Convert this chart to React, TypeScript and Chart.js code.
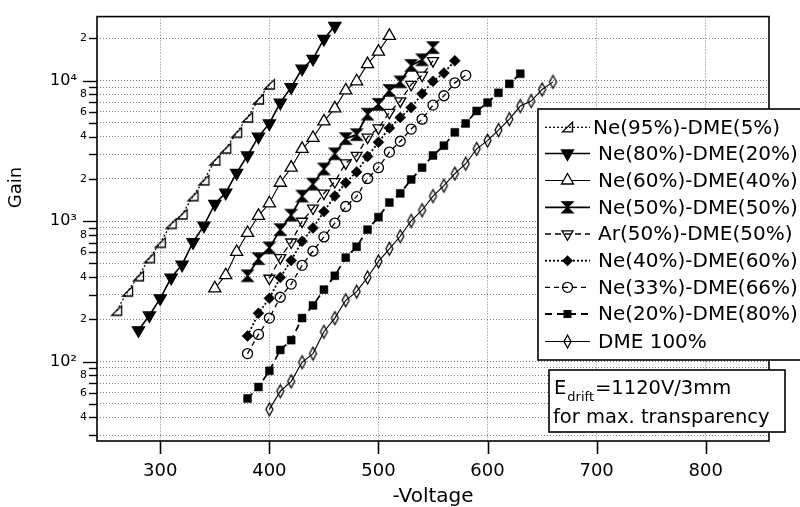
import React, { useEffect, useRef } from 'react';
import { Chart, registerables } from 'chart.js';

Chart.register(...registerables);

const FONT = '"DejaVu Sans", "Liberation Sans", sans-serif';

const seriesNames = [
  'Ne(95%)-DME(5%)',
  'Ne(80%)-DME(20%)',
  'Ne(60%)-DME(40%)',
  'Ne(50%)-DME(50%)',
  'Ar(50%)-DME(50%)',
  'Ne(40%)-DME(60%)',
  'Ne(33%)-DME(66%)',
  'Ne(20%)-DME(80%)',
  'DME 100%',
];

const voltNe95 = [260, 270, 280, 290, 300, 310, 320, 330, 340, 350, 360, 370, 380, 390, 400];
const gainNe95 = [230, 315, 405, 545, 700, 955, 1115, 1505, 1950, 2700, 3280, 4250, 5460, 7340, 9380];

const voltNe80 = [280, 290, 300, 310, 320, 330, 340, 350, 360, 370, 380, 390, 400, 410, 420, 430, 440, 450, 460];
const gainNe80 = [167, 213, 282, 395, 490, 708, 927, 1324, 1593, 2203, 2931, 3990, 4955, 6965, 8975, 12150, 14300, 19770, 24500];

const voltNe60 = [350, 360, 370, 380, 390, 400, 410, 420, 430, 440, 450, 460, 470, 480, 490, 500, 510];
const gainNe60 = [332, 412, 603, 823, 1090, 1339, 1874, 2400, 3266, 3906, 5120, 6350, 8510, 9890, 13100, 16080, 20840];

const voltNe50 = [380, 390, 400, 410, 420, 430, 440, 450, 460, 470, 480, 490, 500, 510, 520, 530, 540, 550];
const gainNe50 = [408, 540, 645, 869, 1102, 1507, 1832, 2350, 3013, 3866, 4122, 5768, 6780, 8510, 9800, 12830, 14070, 17180];

const voltAr50 = [400, 410, 420, 430, 440, 450, 460, 470, 480, 490, 500, 510, 520, 530, 540, 550];
const gainAr50 = [391, 548, 708, 995, 1235, 1575, 1905, 2588, 2931, 3944, 4592, 5929, 7150, 9370, 10900, 13830];

const voltNe40 = [380, 390, 400, 410, 420, 430, 440, 450, 460, 470, 480, 490, 500, 510, 520, 530, 540, 550, 560, 570];
const gainNe40 = [152, 221, 282, 397, 525, 719, 893, 1170, 1507, 1874, 2240, 2885, 3641, 4592, 5460, 6424, 8060, 9880, 11330, 13830];

const voltNe33 = [380, 390, 400, 410, 420, 430, 440, 450, 460, 470, 480, 490, 500, 510, 520, 530, 540, 550, 560, 570, 580];
const gainNe33 = [114, 156, 204, 287, 356, 484, 612, 771, 968, 1270, 1493, 2010, 2400, 3097, 3700, 4520, 5310, 6690, 7800, 9640, 10900];

const voltNe20 = [380, 390, 400, 410, 420, 430, 440, 450, 460, 470, 480, 490, 500, 510, 520, 530, 540, 550, 560, 570, 580, 590, 600, 610, 620, 630];
const gainNe20 = [54.6, 65.9, 85.9, 121, 142, 204, 251, 325, 408, 549, 656, 869, 1067, 1355, 1575, 1977, 2400, 2931, 3444, 4284, 4955, 6080, 6965, 8182, 9480, 11190];

const voltDME = [400, 410, 420, 430, 440, 450, 460, 470, 480, 490, 500, 510, 520, 530, 540, 550, 560, 570, 580, 590, 600, 610, 620, 630, 640, 650, 660];
const gainDME = [45.7, 61.5, 72.3, 98.9, 114, 163, 204, 273, 315, 397, 517, 635, 780, 1003, 1195, 1507, 1787, 2178, 2560, 3266, 3740, 4446, 5310, 6590, 7150, 8650, 9790];

const xTickValues = [300, 400, 500, 600, 700, 800];
const xTickLabels = ['300', '400', '500', '600', '700', '800'];

const yTickValues = [
  30, 40, 50, 60, 70, 80, 90,
  100, 200, 300, 400, 500, 600, 700, 800, 900,
  1000, 2000, 3000, 4000, 5000, 6000, 7000, 8000, 9000,
  10000, 20000,
];
const yTickLabels = [
  '', '4', '', '6', '', '8', '',
  '10\u00B2  ', '2', '', '4', '', '6', '', '8', '',
  '10\u00B3  ', '2', '', '4', '', '6', '', '8', '',
  '10\u2074  ', '2',
];
const yMajorValues = [100, 1000, 10000];

const X_MIN = 242;
const X_MAX = 858;
const Y_MIN = 27.2;
const Y_MAX = 28550;

type Style = { marker: string; width: number; dash: number[] };
const seriesStyles: Style[] = [
  { marker: 'rtri', width: 1.2, dash: [2, 2] },
  { marker: 'tridown', width: 1.6, dash: [] },
  { marker: 'triup', width: 1.1, dash: [] },
  { marker: 'hourglass', width: 1.8, dash: [] },
  { marker: 'tridownOpen', width: 1.3, dash: [6, 4] },
  { marker: 'diamond', width: 1.8, dash: [2, 2] },
  { marker: 'circle', width: 1.3, dash: [5, 4] },
  { marker: 'square', width: 1.8, dash: [7, 5] },
  { marker: 'thinDiamond', width: 1.1, dash: [] },
];

// vector marker path (used for the legend and for the custom point images)
function markerPath(g: CanvasRenderingContext2D, kind: string, x: number, y: number) {
  g.save();
  g.setLineDash([]);
  g.lineWidth = 1.3;
  g.strokeStyle = '#000';
  g.fillStyle = '#000';
  g.beginPath();
  switch (kind) {
    case 'rtri':
      g.moveTo(x - 5, y + 4.5); g.lineTo(x + 5, y + 4.5); g.lineTo(x + 5, y - 5); g.closePath();
      g.stroke();
      break;
    case 'tridown':
      g.moveTo(x - 6, y - 3.5); g.lineTo(x + 6, y - 3.5); g.lineTo(x, y + 7); g.closePath();
      g.fill(); g.stroke();
      break;
    case 'triup':
      g.moveTo(x - 6, y + 3.5); g.lineTo(x + 6, y + 3.5); g.lineTo(x, y - 7); g.closePath();
      g.fillStyle = '#fff'; g.fill(); g.stroke();
      break;
    case 'hourglass':
      g.moveTo(x - 5.5, y - 5.5); g.lineTo(x + 5.5, y - 5.5); g.lineTo(x - 5.5, y + 5.5); g.lineTo(x + 5.5, y + 5.5); g.closePath();
      g.fill(); g.stroke();
      break;
    case 'tridownOpen':
      g.moveTo(x - 5.5, y - 3.2); g.lineTo(x + 5.5, y - 3.2); g.lineTo(x, y + 6.3); g.closePath();
      g.stroke();
      break;
    case 'diamond':
      g.moveTo(x, y - 5.5); g.lineTo(x + 5.5, y); g.lineTo(x, y + 5.5); g.lineTo(x - 5.5, y); g.closePath();
      g.fill();
      break;
    case 'circle':
      g.arc(x, y, 5, 0, Math.PI * 2);
      g.stroke();
      break;
    case 'square':
      g.rect(x - 4, y - 4, 8, 8);
      g.fill();
      break;
    case 'thinDiamond':
      g.moveTo(x, y - 6.5); g.lineTo(x + 3.5, y); g.lineTo(x, y + 6.5); g.lineTo(x - 3.5, y); g.closePath();
      g.stroke();
      break;
  }
  g.restore();
}

function makeMarkerImage(kind: string): HTMLCanvasElement {
  const c = document.createElement('canvas');
  c.width = 17;
  c.height = 17;
  const g = c.getContext('2d') as CanvasRenderingContext2D;
  markerPath(g, kind, 8.5, 8.5);
  return c;
}

// Chart.js point options per marker kind
function pointOpts(kind: string): any {
  const base = { pointBorderColor: '#000', pointBorderWidth: 1.3 };
  switch (kind) {
    case 'tridown':
      return { ...base, pointStyle: 'triangle', pointRotation: 180, pointRadius: 7, pointBackgroundColor: '#000' };
    case 'triup':
      return { ...base, pointStyle: 'triangle', pointRotation: 0, pointRadius: 7, pointBackgroundColor: '#fff' };
    case 'tridownOpen':
      return { ...base, pointStyle: 'triangle', pointRotation: 180, pointRadius: 6.3, pointBackgroundColor: 'rgba(0,0,0,0)' };
    case 'diamond':
      return { ...base, pointStyle: 'rectRot', pointRadius: 5.5, pointBorderWidth: 0.5, pointBackgroundColor: '#000' };
    case 'circle':
      return { ...base, pointStyle: 'circle', pointRadius: 5, pointBackgroundColor: 'rgba(0,0,0,0)' };
    case 'square':
      return { ...base, pointStyle: 'rect', pointRadius: 5.6, pointBorderWidth: 0.5, pointBackgroundColor: '#000' };
    default:
      return { ...base, pointStyle: makeMarkerImage(kind), pointRadius: 6 };
  }
}

export default function App() {
  const ref = useRef<HTMLCanvasElement | null>(null);

  useEffect(() => {
    const canvas = ref.current;
    if (!canvas) return;

    const volts = [voltNe95, voltNe80, voltNe60, voltNe50, voltAr50, voltNe40, voltNe33, voltNe20, voltDME];
    const gains = [gainNe95, gainNe80, gainNe60, gainNe50, gainAr50, gainNe40, gainNe33, gainNe20, gainDME];

    const datasets = seriesNames.map((name, i) => {
      const p = pointOpts(seriesStyles[i].marker);
      return {
        label: name,
        data: volts[i].map((v, j) => ({ x: v, y: gains[i][j] })),
        borderColor: '#000',
        backgroundColor: '#000',
        borderWidth: seriesStyles[i].width,
        borderDash: seriesStyles[i].dash,
        ...p,
        pointHoverRadius: p.pointRadius,
        fill: false,
        tension: 0,
        clip: false as any,
      };
    });

    const decor = {
      id: 'decor',
      afterDraw(chart: any) {
        const { ctx, chartArea: a, scales } = chart;
        ctx.save();
        ctx.setLineDash([]);
        ctx.strokeStyle = '#000';
        ctx.fillStyle = '#000';

        // frame
        ctx.lineWidth = 1.6;
        ctx.strokeRect(a.left, a.top, a.right - a.left, a.bottom - a.top);

        // y tick marks
        ctx.lineWidth = 1.4;
        yTickValues.forEach((v) => {
          const py = Math.round(scales.y.getPixelForValue(v)) + 0.5;
          const len = yMajorValues.includes(v) ? 14 : 8;
          ctx.beginPath();
          ctx.moveTo(a.left - len, py);
          ctx.lineTo(a.left, py);
          ctx.stroke();
        });
        // x tick marks
        ctx.lineWidth = 1.6;
        xTickValues.forEach((v) => {
          const px = Math.round(scales.x.getPixelForValue(v)) + 0.5;
          ctx.beginPath();
          ctx.moveTo(px, a.bottom);
          ctx.lineTo(px, a.bottom + 13);
          ctx.stroke();
        });

        // y title
        ctx.save();
        ctx.translate(16, 187.5);
        ctx.rotate(-Math.PI / 2);
        ctx.font = `18px ${FONT}`;
        ctx.textAlign = 'center';
        ctx.textBaseline = 'middle';
        ctx.fillText('Gain', 0, 0);
        ctx.restore();

        // legend box
        const lx = 538, ly = 109, lb = 360;
        ctx.fillStyle = '#fff';
        ctx.fillRect(lx, ly, 300, lb - ly);
        ctx.lineWidth = 1.6;
        ctx.strokeStyle = '#000';
        ctx.strokeRect(lx, ly, 300, lb - ly);
        const rowY = [127.3, 153.5, 180.5, 207.3, 234, 260.7, 287.3, 314, 341.5];
        ctx.font = `20px ${FONT}`;
        ctx.textBaseline = 'middle';
        ctx.textAlign = 'left';
        seriesNames.forEach((name, i) => {
          const y = rowY[i];
          ctx.save();
          ctx.strokeStyle = '#000';
          ctx.lineWidth = seriesStyles[i].width;
          ctx.setLineDash(seriesStyles[i].dash);
          ctx.beginPath();
          ctx.moveTo(545, y);
          ctx.lineTo(590, y);
          ctx.stroke();
          ctx.restore();
          markerPath(ctx, seriesStyles[i].marker, 567.5, y);
          ctx.fillStyle = '#000';
          ctx.fillText(name, i === 0 ? 593 : 598, y + 1);
        });

        // annotation box
        const bx = 549, by = 370, bw = 236, bh = 62;
        ctx.fillStyle = '#fff';
        ctx.fillRect(bx, by, bw, bh);
        ctx.lineWidth = 1.6;
        ctx.strokeRect(bx, by, bw, bh);
        ctx.fillStyle = '#000';
        ctx.textBaseline = 'alphabetic';
        ctx.font = `19.5px ${FONT}`;
        ctx.fillText('E', 554, 394);
        let x = 554 + ctx.measureText('E').width;
        ctx.font = `13px ${FONT}`;
        ctx.fillText('drift', x + 1, 401);
        x += ctx.measureText('drift').width + 2;
        ctx.font = `19.5px ${FONT}`;
        ctx.fillText('=1120V/3mm', x, 394);
        ctx.fillText('for max. transparency', 553, 423);

        ctx.restore();
      },
    };

    const chart = new Chart(canvas, {
      type: 'line',
      data: { datasets: datasets as any },
      options: {
        animation: false,
        responsive: false,
        maintainAspectRatio: false,
        layout: { padding: { top: 12, right: 31, left: 0, bottom: 0 } },
        plugins: { legend: { display: false }, tooltip: { enabled: false } },
        elements: { line: { tension: 0 } },
        scales: {
          x: {
            type: 'linear',
            min: X_MIN,
            max: X_MAX,
            afterBuildTicks: (s: any) => {
              s.ticks = xTickValues.map((v) => ({ value: v }));
            },
            afterFit: (s: any) => {
              s.height = 66;
            },
            grid: { color: 'rgba(0,0,0,0.5)', lineWidth: 1, drawTicks: false },
            border: { display: false, dash: [1, 2] },
            ticks: {
              padding: 20,
              color: '#000',
              font: { family: FONT, size: 18 },
              autoSkip: false,
              maxRotation: 0,
              minRotation: 0,
              callback: (v: any) => xTickLabels[xTickValues.indexOf(Number(v))] ?? '',
            },
            title: {
              display: true,
              text: '-Voltage',
              color: '#000',
              font: { family: FONT, size: 20 },
              padding: { top: 0, bottom: -2 },
            },
          },
          y: {
            type: 'logarithmic',
            min: Y_MIN,
            max: Y_MAX,
            afterBuildTicks: (s: any) => {
              s.ticks = yTickValues.map((v) => ({ value: v }));
            },
            afterFit: (s: any) => {
              s.width = 97;
            },
            grid: { color: 'rgba(0,0,0,0.5)', lineWidth: 1, drawTicks: false },
            border: { display: false, dash: [1, 2] },
            ticks: {
              padding: 10,
              color: '#000',
              autoSkip: false,
              font: (c: any) => {
                const v = c && c.tick ? c.tick.value : 0;
                return yMajorValues.includes(v)
                  ? { family: FONT, size: 16 }
                  : { family: FONT, size: 11 };
              },
              callback: (v: any) => yTickLabels[yTickValues.indexOf(Number(v))] ?? '',
            },
            title: { display: false },
          },
        },
      },
      plugins: [decor],
    } as any);

    return () => {
      chart.destroy();
    };
  }, []);

  return (
    <div style={{ position: 'fixed', left: 0, top: 0, width: 800, height: 507, background: '#fff' }}>
      <canvas ref={ref} width={800} height={507} style={{ display: 'block', width: 800, height: 507 }} />
    </div>
  );
}
